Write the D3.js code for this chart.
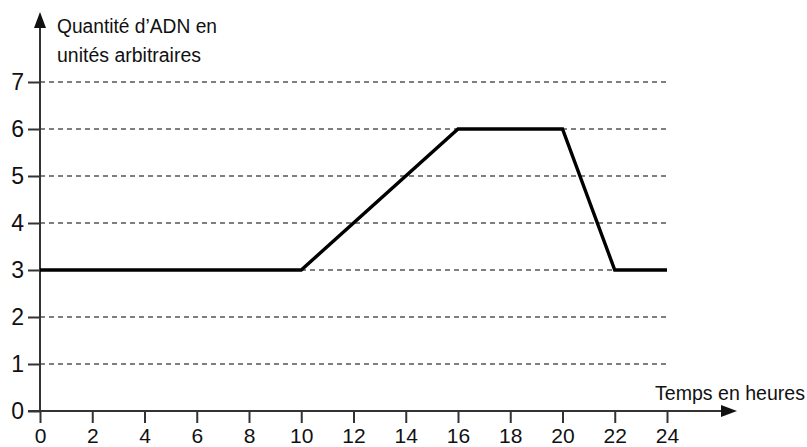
<!DOCTYPE html>
<html>
<head>
<meta charset="utf-8">
<script src="https://cdn.jsdelivr.net/npm/d3@7"></script>
<style>
  body { margin: 0; background: #fff; }
  text { font-family: "Liberation Sans", Arial, sans-serif; fill: #111; }
</style>
</head>
<body>
<div class="chart"></div>
<script>
// data
const hours = [0, 10, 16, 20, 22, 24];
const dna = [3, 3, 6, 6, 3, 3];
const xTicks = [0, 2, 4, 6, 8, 10, 12, 14, 16, 18, 20, 22, 24];
const yTicks = [0, 1, 2, 3, 4, 5, 6, 7];
const gridLevels = [1, 2, 3, 4, 5, 6, 7];
const yTitle = ['Quantité d\u2019ADN en', 'unités arbitraires'];
const xTitle = 'Temps en heures';

const width = 807;
const height = 447;

const x = d3.scaleLinear().domain([0, 24]).range([40, 667]);
const y = d3.scaleLinear().domain([0, 7]).range([411, 82]);

const svg = d3.select('.chart')
  .append('svg')
  .attr('width', width)
  .attr('height', height);

// dashed horizontal guides
svg.append('g')
  .selectAll('line')
  .data(gridLevels)
  .join('line')
  .attr('x1', x(0))
  .attr('x2', x(24))
  .attr('y1', d => y(d))
  .attr('y2', d => y(d))
  .attr('stroke', '#555')
  .attr('stroke-width', 1.3)
  .attr('stroke-dasharray', '5,4');

// y axis
const yAxis = d3.axisLeft(y).tickValues(yTicks).tickSize(12).tickPadding(4).tickFormat(d3.format('d'));
const gy = svg.append('g')
  .attr('transform', `translate(${x(0)},0)`)
  .call(yAxis);
gy.select('.domain').remove();
gy.selectAll('.tick line').attr('stroke', '#333').attr('stroke-width', 2);
gy.selectAll('.tick text').attr('font-size', 23).attr('font-family', '"Liberation Sans", Arial, sans-serif').attr('fill', '#111');

// x axis
const xAxis = d3.axisBottom(x).tickValues(xTicks).tickSize(12).tickPadding(5).tickFormat(d3.format('d'));
const gx = svg.append('g')
  .attr('transform', `translate(0,${y(0)})`)
  .call(xAxis);
gx.select('.domain').remove();
gx.selectAll('.tick line').attr('stroke', '#333').attr('stroke-width', 2);
gx.selectAll('.tick text').attr('font-size', 21).attr('font-family', '"Liberation Sans", Arial, sans-serif').attr('fill', '#111');

// axis lines with arrows
svg.append('line')
  .attr('x1', x(0)).attr('x2', x(0))
  .attr('y1', y(0)).attr('y2', 24)
  .attr('stroke', '#333').attr('stroke-width', 2);
svg.append('path')
  .attr('d', `M${x(0)},12 L${x(0) - 6},28 L${x(0) + 6},28 Z`)
  .attr('fill', '#111');

svg.append('line')
  .attr('x1', x(0) - 12).attr('x2', 725)
  .attr('y1', y(0)).attr('y2', y(0))
  .attr('stroke', '#333').attr('stroke-width', 2);
svg.append('path')
  .attr('d', `M737,${y(0)} L721,${y(0) - 6} L721,${y(0) + 6} Z`)
  .attr('fill', '#111');

// titles
svg.append('g')
  .selectAll('text')
  .data(yTitle)
  .join('text')
  .attr('x', 57)
  .attr('y', (d, i) => 33 + i * 29)
  .attr('font-size', 20)
  .attr('textLength', (d, i) => i === 0 ? 160 : 144)
  .attr('lengthAdjust', 'spacingAndGlyphs')
  .text(d => d);

svg.append('text')
  .attr('x', 655)
  .attr('y', 400)
  .attr('font-size', 20)
  .attr('textLength', 150)
  .attr('lengthAdjust', 'spacingAndGlyphs')
  .text(xTitle);

// the curve
const line = d3.line()
  .x(d => x(d[0]))
  .y(d => y(d[1]));

svg.append('path')
  .datum(d3.zip(hours, dna))
  .attr('d', line)
  .attr('fill', 'none')
  .attr('stroke', '#000')
  .attr('stroke-width', 3.4)
  .attr('stroke-linejoin', 'miter');
</script>
</body>
</html>
